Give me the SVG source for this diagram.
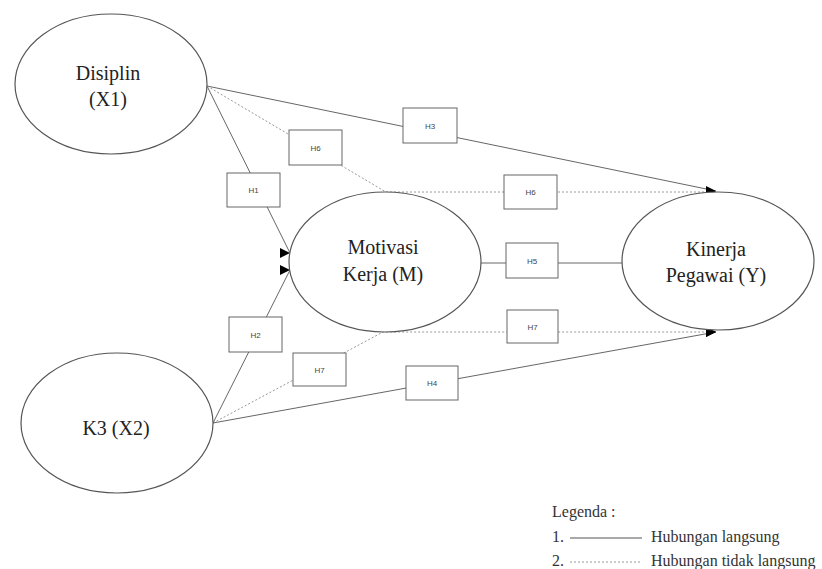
<svg xmlns="http://www.w3.org/2000/svg" width="822" height="569" viewBox="0 0 822 569">
<defs>
<style>
.node ellipse{fill:#fff;stroke:#555;stroke-width:1.2}
.nt{font-family:"Liberation Serif","Times New Roman",serif;font-size:20px;fill:#222;text-anchor:middle}
.solid{fill:none;stroke:#666;stroke-width:1}
.dot{fill:none;stroke:#999;stroke-width:1;stroke-dasharray:2 2}
.box rect{fill:#fff;stroke:#666;stroke-width:1}
.box text{font-family:"Liberation Sans",Arial,sans-serif;font-size:8px;fill:#444;text-anchor:middle}
.leg{font-family:"Liberation Serif","Times New Roman",serif;font-size:16px;fill:#333}
</style>
<marker id="arr" viewBox="0 0 10 10" refX="10" refY="5" markerWidth="10" markerHeight="10" markerUnits="userSpaceOnUse" orient="0">
<path d="M0,0 L10,5 L0,10 Z" fill="#000"/>
</marker>
</defs>
<rect width="822" height="569" fill="#fff"/>

<g id="connectors">
<line class="solid" x1="207" y1="86" x2="290" y2="253" marker-end="url(#arr)"/>
<line class="solid" x1="207" y1="86" x2="716" y2="191" marker-end="url(#arr)"/>
<polyline class="dot" points="207,86 386,192 716,192"/>
<line class="solid" x1="481" y1="263" x2="622" y2="263"/>
<polyline class="dot" points="213,423 383,332 716,332"/>
<line class="solid" x1="213" y1="423" x2="290" y2="270" marker-end="url(#arr)"/>
<line class="solid" x1="213" y1="423" x2="716" y2="332" marker-end="url(#arr)"/>
<path d="M706,187 L716,192 L706,196 Z M706,327 L716,332 L706,337 Z" fill="#000"/>
</g>

<g id="X1" class="node">
<ellipse cx="111" cy="84" rx="96" ry="70"/>
<text class="nt" x="108" y="80">Disiplin</text>
<text class="nt" x="108" y="106">(X1)</text>
</g>
<g id="X2" class="node">
<ellipse cx="117" cy="423" rx="96" ry="70"/>
<text class="nt" x="116" y="435">K3 (X2)</text>
</g>
<g id="M" class="node">
<ellipse cx="385" cy="262" rx="96" ry="70"/>
<text class="nt" x="383" y="254">Motivasi</text>
<text class="nt" x="383" y="281">Kerja (M)</text>
</g>
<g id="Y" class="node">
<ellipse cx="718" cy="261" rx="96" ry="69"/>
<text class="nt" x="716" y="256">Kinerja</text>
<text class="nt" x="716" y="282">Pegawai (Y)</text>
</g>

<g id="boxH1" class="box"><rect x="227" y="173" width="53" height="34"/><text x="253.5" y="193">H1</text></g>
<g id="boxH6a" class="box"><rect x="289" y="130" width="53" height="35"/><text x="315.5" y="150.5">H6</text></g>
<g id="boxH3" class="box"><rect x="403" y="108" width="54" height="35"/><text x="430" y="128.5">H3</text></g>
<g id="boxH6b" class="box"><rect x="504" y="175" width="53" height="34"/><text x="530.5" y="195">H6</text></g>
<g id="boxH5" class="box"><rect x="506" y="243" width="52" height="35"/><text x="532" y="263.5">H5</text></g>
<g id="boxH7b" class="box"><rect x="507" y="310" width="51" height="33"/><text x="532.5" y="329.5">H7</text></g>
<g id="boxH2" class="box"><rect x="229" y="317" width="53" height="35"/><text x="255.5" y="337.5">H2</text></g>
<g id="boxH7a" class="box"><rect x="293" y="353" width="53" height="33"/><text x="319.5" y="372.5">H7</text></g>
<g id="boxH4" class="box"><rect x="406" y="366" width="52" height="34"/><text x="432" y="386">H4</text></g>

<g id="legend">
<text class="leg" x="552" y="517">Legenda :</text>
<text class="leg" x="552" y="542">1.</text>
<line x1="570" y1="538" x2="642" y2="538" stroke="#555" stroke-width="1.2"/>
<text class="leg" x="651" y="542">Hubungan langsung</text>
<text class="leg" x="552" y="566">2.</text>
<line x1="570" y1="562" x2="642" y2="562" stroke="#999" stroke-width="1" stroke-dasharray="2 2"/>
<text class="leg" x="651" y="566">Hubungan tidak langsung</text>
</g>
</svg>
